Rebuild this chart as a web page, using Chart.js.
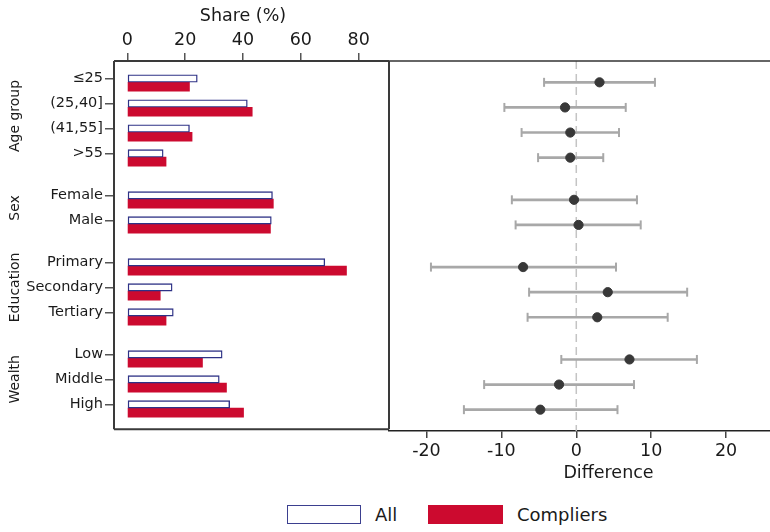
<!DOCTYPE html>
<html>
<head>
<meta charset="utf-8">
<script src="https://cdn.jsdelivr.net/npm/chart.js@4.4.1/dist/chart.umd.min.js"></script>
<style>
  html, body { margin: 0; padding: 0; background: #fff; width: 770px; height: 532px; overflow: hidden; }
  body { position: relative; font-family: 'DejaVu Sans', sans-serif; color: #1a1a1a; }
  .panel { position: absolute; top: 0; }
  #left-wrap { left: 0; width: 390px; height: 440px; }
  #right-wrap { left: 388px; width: 440px; height: 490px; }
  .legend-box { position: absolute; top: 505px; height: 19px; box-sizing: border-box; }
  .legend-text { position: absolute; top: 503px; font-size: 18px; line-height: 24px; }
</style>
</head>
<body>
<div id="left-wrap" class="panel"><canvas id="shareChart"></canvas></div>
<div id="right-wrap" class="panel"><canvas id="diffChart"></canvas></div>

<div class="legend-box" style="left:287px; width:74px; border:1.5px solid #3b3f8f; background:#fff;"></div>
<div class="legend-text" style="left:375px;">All</div>
<div class="legend-box" style="left:428px; width:75px; background:#cc0a2f;"></div>
<div class="legend-text" style="left:517px;">Compliers</div>

<script>
// ==================================================
// DATA
// ==================================================
const groups = ["Age group", "Sex", "Education", "Wealth"];
const groupSizes = [4, 2, 3, 3];
const categories = ["≤25", "(25,40]", "(41,55]", ">55", "Female", "Male",
                    "Primary", "Secondary", "Tertiary", "Low", "Middle", "High"];

const shareAll = [24.2, 41.5, 21.5, 12.4, 50.2, 49.8, 68.3, 15.5, 15.9, 32.8, 31.8, 35.4];
const shareCompliers = [21.5, 43.2, 22.4, 13.4, 50.5, 49.5, 75.8, 11.4, 13.4, 26.0, 34.3, 40.2];

const diffEst = [3.1, -1.5, -0.8, -0.8, -0.3, 0.3, -7.1, 4.2, 2.8, 7.1, -2.3, -4.8];
const diffLow = [-4.3, -9.6, -7.3, -5.1, -8.6, -8.1, -19.4, -6.3, -6.5, -2.0, -12.3, -15.0];
const diffHigh = [10.5, 6.6, 5.7, 3.6, 8.1, 8.6, 5.3, 14.8, 12.2, 16.1, 7.7, 5.5];

const shareTicks = [0, 20, 40, 60, 80];
const diffTicks = [-20, -10, 0, 10, 20];

// ==================================================
// LAYOUT HELPERS
// ==================================================
const GROUP_GAP = 0.68;     // extra space between groups, in rows
const Y_MIN = -0.85;
const Y_MAX = 13.89;
const TICK_SHIFT = 0.15;    // tick sits on the "All" bar

const RED = "#cc0a2f";
const NAVY = "#2e3286";
const TEXT = "#1a1a1a";
const CI_GREY = "#a8a8a8";
const FONT = "'DejaVu Sans', sans-serif";

// row position of each category, groups separated by a gap
const rowPos = [];
let k = 0;
groupSizes.forEach((n, g) => {
    for (let i = 0; i < n; i++) rowPos.push(k++ + g * GROUP_GAP);
});

// centre row of each group, for the rotated group titles
const groupCentres = [];
let start = 0;
groupSizes.forEach(n => {
    groupCentres.push((rowPos[start] + rowPos[start + n - 1]) / 2 - TICK_SHIFT);
    start += n;
});

Chart.defaults.font.family = FONT;
Chart.defaults.color = TEXT;
Chart.defaults.animation = false;

// frame around the plot region
const framePlugin = {
    id: "frame",
    afterDraw(chart, args, opts) {
        const { ctx, chartArea: a } = chart;
        ctx.save();
        ctx.strokeStyle = opts.color || "#333";
        ctx.lineWidth = opts.width || 1.5;
        ctx.beginPath();
        (opts.sides || "trbl").split("").forEach(s => {
            if (s === "t") { ctx.moveTo(a.left, a.top); ctx.lineTo(a.right, a.top); }
            if (s === "r") { ctx.moveTo(a.right, a.top); ctx.lineTo(a.right, a.bottom); }
            if (s === "b") { ctx.moveTo(a.left, a.bottom); ctx.lineTo(a.right, a.bottom); }
            if (s === "l") { ctx.moveTo(a.left, a.top); ctx.lineTo(a.left, a.bottom); }
        });
        ctx.stroke();
        ctx.restore();
    }
};

// axis titles and group labels drawn as text
const textPlugin = {
    id: "labels",
    afterDraw(chart, args, opts) {
        const ctx = chart.ctx;
        ctx.save();
        ctx.fillStyle = TEXT;
        ctx.textAlign = "center";
        ctx.textBaseline = "middle";
        ctx.font = "17.5px " + FONT;
        if (opts.topTitle) {
            const x = chart.scales.x;
            const cx = (x.getPixelForValue(shareTicks[0]) + x.getPixelForValue(shareTicks[shareTicks.length - 1])) / 2;
            ctx.fillText(opts.topTitle, cx, 16);
        }
        if (opts.bottomTitle) {
            const a = chart.chartArea;
            ctx.fillText(opts.bottomTitle, (a.left + a.right) / 2, 473);
        }
        if (opts.groups) {
            ctx.font = "14px " + FONT;
            const y = chart.scales.y;
            groups.forEach((g, i) => {
                ctx.save();
                ctx.translate(15, y.getPixelForValue(groupCentres[i]));
                ctx.rotate(-Math.PI / 2);
                ctx.fillText(g, 0, 0);
                ctx.restore();
            });
        }
        ctx.restore();
    }
};

function noSidePadding(s) {
    s.paddingLeft = 0;
    s.paddingRight = 0;
}

// ==================================================
// LEFT PANEL: SHARES
// ==================================================
new Chart(document.getElementById("shareChart"), {
    type: "bar",
    data: {
        datasets: [
            {
                label: "All",
                data: shareAll.map((v, i) => ({ x: v, y: rowPos[i] })),
                backgroundColor: "#ffffff",
                borderColor: NAVY,
                borderWidth: 1.4,
                borderSkipped: false,
                barThickness: 7.5
            },
            {
                label: "Compliers",
                data: shareCompliers.map((v, i) => ({ x: v, y: rowPos[i] })),
                backgroundColor: RED,
                borderWidth: 0,
                barThickness: 9
            }
        ]
    },
    options: {
        indexAxis: "y",
        responsive: true,
        maintainAspectRatio: false,
        layout: { autoPadding: false, padding: { left: 0, top: 0, right: 1, bottom: 9 } },
        plugins: {
            legend: { display: false },
            tooltip: { enabled: false },
            frame: { color: "#3a3a3a", width: 2 },
            labels: { topTitle: "Share (%)", groups: true }
        },
        scales: {
            x: {
                type: "linear",
                position: "top",
                min: -4.6,
                max: 90.5,
                afterBuildTicks: s => { s.ticks = shareTicks.map(v => ({ value: v })); },
                afterFit: s => { s.height = 61; noSidePadding(s); },
                ticks: { font: { size: 17.5 }, color: TEXT, padding: 2 },
                grid: { drawOnChartArea: false, tickLength: 8, color: "#555", lineWidth: 1.5 },
                border: { display: false }
            },
            y: {
                type: "linear",
                reverse: true,
                offset: false,
                min: Y_MIN,
                max: Y_MAX,
                afterBuildTicks: s => { s.ticks = rowPos.map(p => ({ value: p - TICK_SHIFT })); },
                afterFit: s => { s.width = 114; },
                ticks: {
                    font: { size: 14.5 },
                    color: TEXT,
                    padding: 2,
                    callback: (v, i) => categories[i]
                },
                grid: { offset: false, drawOnChartArea: false, tickLength: 9, color: "#555", lineWidth: 1.5 },
                border: { display: false }
            }
        }
    },
    plugins: [framePlugin, textPlugin]
});

// ==================================================
// RIGHT PANEL: DIFFERENCES
// ==================================================
const capPoints = [];
diffLow.forEach((v, i) => capPoints.push({ x: v, y: rowPos[i] }));
diffHigh.forEach((v, i) => capPoints.push({ x: v, y: rowPos[i] }));

new Chart(document.getElementById("diffChart"), {
    type: "scatter",
    data: {
        datasets: [
            {
                label: "Estimate",
                data: diffEst.map((v, i) => ({ x: v, y: rowPos[i] })),
                backgroundColor: "#383838",
                borderColor: "#383838",
                pointRadius: 4.6,
                order: 0
            },
            {
                label: "CI caps",
                data: capPoints,
                pointStyle: "line",
                rotation: 90,
                pointRadius: 4.5,
                borderColor: CI_GREY,
                borderWidth: 2,
                order: 1
            },
            {
                type: "bar",
                label: "CI",
                indexAxis: "y",
                data: diffLow.map((lo, i) => ({ x: [lo, diffHigh[i]], y: rowPos[i] })),
                backgroundColor: CI_GREY,
                borderWidth: 0,
                barThickness: 2,
                order: 2
            },
            {
                type: "line",
                label: "Zero",
                data: [{ x: 0, y: Y_MIN }, { x: 0, y: Y_MAX }],
                borderColor: "#c4c4c4",
                borderWidth: 1.5,
                borderDash: [8, 5],
                pointRadius: 0,
                order: 3
            }
        ]
    },
    options: {
        responsive: true,
        maintainAspectRatio: false,
        layout: { autoPadding: false, padding: { left: 1, top: 61, right: 0, bottom: 0 } },
        plugins: {
            legend: { display: false },
            tooltip: { enabled: false },
            frame: { color: "#333", width: 1.5, sides: "t" },
            labels: { bottomTitle: "Difference" }
        },
        scales: {
            x: {
                type: "linear",
                position: "bottom",
                min: -25,
                max: 33.6,
                afterBuildTicks: s => { s.ticks = diffTicks.map(v => ({ value: v })); },
                afterFit: s => { s.height = 59; noSidePadding(s); },
                ticks: { font: { size: 17.5 }, color: TEXT, padding: 3 },
                grid: { drawOnChartArea: false, tickLength: 7, color: "#444", lineWidth: 1.5 },
                border: { display: true, color: "#222", width: 1.5 }
            },
            y: {
                type: "linear",
                display: false,
                reverse: true,
                offset: false,
                min: Y_MIN,
                max: Y_MAX
            }
        }
    },
    plugins: [framePlugin, textPlugin]
});
</script>
</body>
</html>
